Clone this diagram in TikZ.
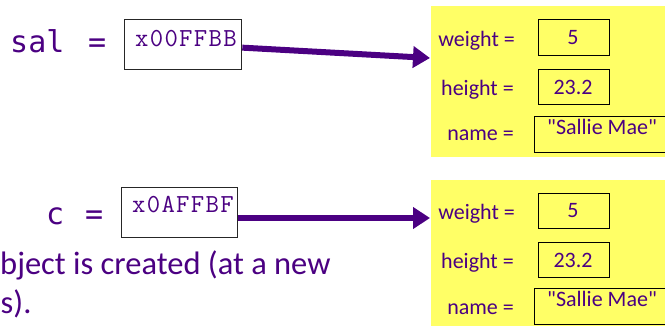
\documentclass[tikz,border=0pt]{standalone}
\usepackage{fontspec}
\setmainfont{Carlito}
\newfontfamily\valfont{Carlito}
\newfontfamily\varfont{DejaVu Sans Mono}
\newfontfamily\addrfont[LetterSpace=5]{Latin Modern Mono}
\usetikzlibrary{arrows.meta}
\definecolor{ink}{RGB}{75,0,130}
\definecolor{heap}{RGB}{255,255,102}
\tikzset{
  x=1pt, y=-1pt,
  varname/.style={font=\varfont\fontsize{30}{30}\selectfont, text=ink, inner sep=0pt},
  addrbox/.style={draw=black!85, line width=1.3pt, fill=white, anchor=north west, inner sep=0pt},
  addrtext/.style={font=\addrfont\fontsize{26}{26}\selectfont, text=ink, inner sep=0pt, anchor=base west},
  objbox/.style={fill=heap, draw=none, anchor=north west, inner sep=0pt},
  field/.style={font=\fontsize{22}{22}\selectfont, text=ink, inner sep=0pt, anchor=base east},
  valbox/.style={draw=black, line width=1.2pt, anchor=north west, inner sep=0pt},
  valtext/.style={font=\valfont\fontsize{22}{22}\selectfont, text=ink, inner sep=0pt, anchor=base},
  prose/.style={font=\fontsize{32.5}{32.5}\selectfont, text=ink, inner sep=0pt},
  ptr/.style={draw=ink, line width=6pt, -{Triangle[length=17pt,width=21pt]}}
}
\begin{document}
\begin{tikzpicture}
\useasboundingbox (0,0) rectangle (665,326);
\clip (0,0) rectangle (665,326);

% ---------- first reference: sal ----------
\node[varname, anchor=base west] (sal) at (10,53) {sal};
\node[varname, anchor=base west] (saleq) at (88,53) {=};
\node[addrbox, minimum width=117pt, minimum height=50pt] (addr1) at (124,19) {};
\node[addrtext] (addr1t) at (135,47) {x00FFBB};

% object on the heap
\node[objbox, minimum width=240pt, minimum height=151pt] (obj1) at (431,6) {};
\node[field] (w1) at (515,47) {weight =};
\node[field] (h1) at (514,96) {height =};
\node[field] (n1) at (514,141) {name =};
\node[valbox, minimum width=71pt, minimum height=36pt] (wv1) at (538,19) {};
\node[valtext] (wv1t) at (573,45) {5};
\node[valbox, minimum width=71pt, minimum height=35pt] (hv1) at (538,69) {};
\node[valtext] (hv1t) at (573,95) {23.2};
\node[valbox, minimum width=140pt, minimum height=36pt] (nv1) at (534,116) {};
\node[valtext, anchor=base west] (nv1t) at (547,135) {"Sallie Mae"};

\coordinate (in1) at (430,58);
\path[ptr] ([yshift=-3pt]addr1.east) -- (in1);

% ---------- second reference: c ----------
\node[varname, anchor=base west] (c) at (46,225) {c};
\node[varname, anchor=base west] (ceq) at (85,225) {=};
\node[addrbox, minimum width=116pt, minimum height=50pt] (addr2) at (121,187) {};
\node[addrtext] (addr2t) at (132,213) {x0AFFBF};

\node[objbox, minimum width=240pt, minimum height=160pt] (obj2) at (431,180) {};
\node[field] (w2) at (515,220) {weight =};
\node[field] (h2) at (514,269) {height =};
\node[field] (n2) at (514,314) {name =};
\node[valbox, minimum width=71pt, minimum height=35pt] (wv2) at (538,193) {};
\node[valtext] (wv2t) at (573,218) {5};
\node[valbox, minimum width=71pt, minimum height=35pt] (hv2) at (538,242) {};
\node[valtext] (hv2t) at (573,268) {23.2};
\node[valbox, minimum width=140pt, minimum height=36pt] (nv2) at (534,288) {};
\node[valtext, anchor=base west] (nv2t) at (547,307) {"Sallie Mae"};

\coordinate (in2) at (430,218);
\path[ptr] (addr2.east |- in2) -- (in2);

% ---------- explanatory text ----------
\node[prose, anchor=base west] (line1) at (0,275) {bject is created (at a new};
\node[prose, anchor=base west] (line2) at (0.5,313) {s).};
\end{tikzpicture}
\end{document}
